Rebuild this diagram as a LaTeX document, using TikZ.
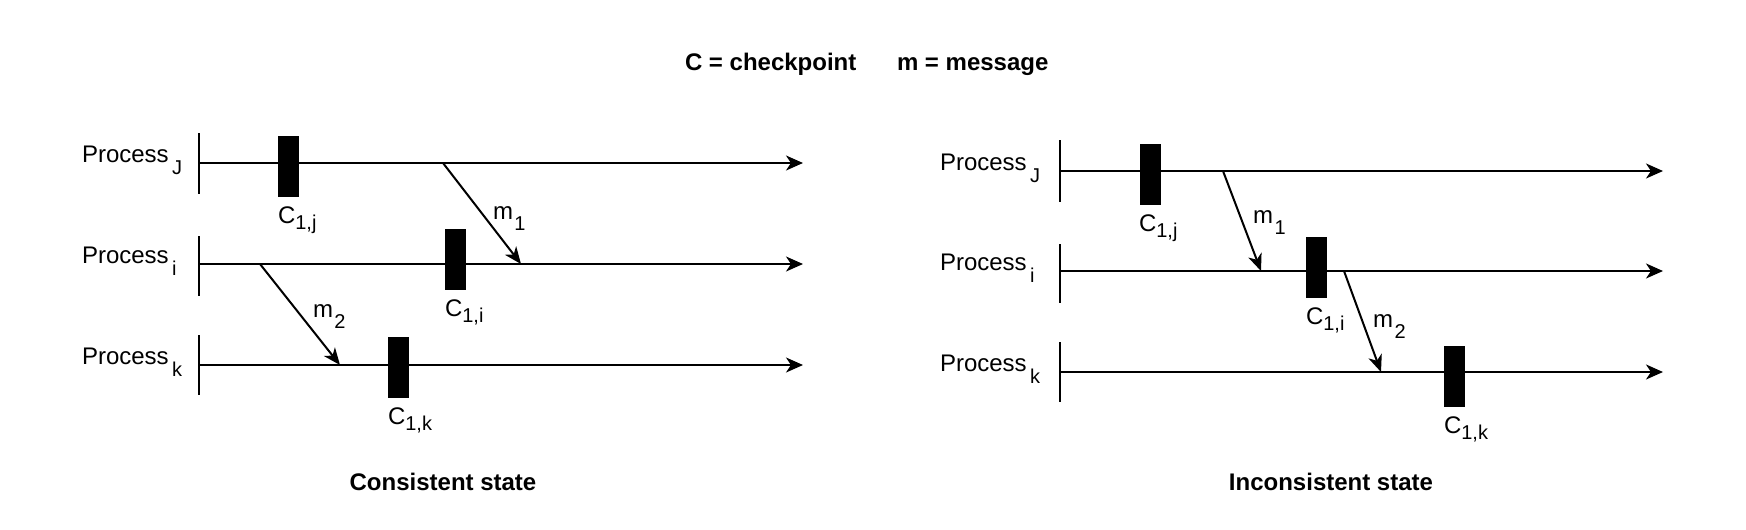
\documentclass[tikz,border=0pt]{standalone}
\usepackage{fontspec}
\setmainfont{Liberation Sans}
\usetikzlibrary{arrows.meta}
\newcommand\mysub[2]{\raisebox{-#1pt}{\fontsize{20}{20}\selectfont #2}}
\newcommand\procl[1]{Process\hspace{3.5pt}\mysub{12}{#1}}
\newcommand\ckl[1]{C\mysub{6}{#1}}
\newcommand\msgl[1]{m\hspace{1.5pt}\mysub{11}{#1}}
\begin{document}
\begin{tikzpicture}[x=1pt,y=-1pt,
  lbl/.style={inner sep=0pt, outer sep=0pt, anchor=base west, font=\fontsize{24}{28}\selectfont},
  ttl/.style={inner sep=0pt, outer sep=0pt, font=\fontsize{24}{28}\selectfont\bfseries},
  tline/.style={line width=2pt, -{Stealth[length=17pt,width=15pt,inset=5pt]}},
  msg/.style={line width=2pt, -{Stealth[length=17pt,width=14pt,inset=5pt]}},
  axisbar/.style={line width=2pt},
  ckpt/.style={fill=black, draw=none, inner sep=0pt, outer sep=0pt, minimum width=21pt, minimum height=61pt}]
\useasboundingbox (0,0) rectangle (1746,530);
\fill[white] (0,0) rectangle (1746,530);

% title
\node[ttl, anchor=base west] (t1) at (685,70) {C = checkpoint};
\node[ttl, anchor=base west] (t2) at (897,70) {m = message};

% ---------------- left panel ----------------
\coordinate (LJs) at (200,163); \coordinate (LJe) at (803,163);
\coordinate (LIs) at (200,264); \coordinate (LIe) at (803,264);
\coordinate (LKs) at (200,365); \coordinate (LKe) at (803,365);
\draw[tline] (LJs) -- (LJe);
\draw[tline] (LIs) -- (LIe);
\draw[tline] (LKs) -- (LKe);
\draw[axisbar] (199,133) -- (199,194);
\draw[axisbar] (199,236) -- (199,296);
\draw[axisbar] (199,335) -- (199,395);
\node[lbl] (LPJ) at (82,162) {\procl{J}};
\node[lbl] (LPI) at (82,263) {\procl{i}};
\node[lbl] (LPK) at (82,364) {\procl{k}};

\node[ckpt] (LCj) at (288.5,166.5) {};
\node[ckpt] (LCi) at (455.5,259.5) {};
\node[ckpt] (LCk) at (398.5,367.5) {};
\node[lbl] (LCjl) at (278,223) {\ckl{1,j}};
\node[lbl] (LCil) at (445,316) {\ckl{1,i}};
\node[lbl] (LCkl) at (388,424) {\ckl{1,k}};

\coordinate (Lm1s) at (443,163); \coordinate (Lm1e) at (521,264);
\coordinate (Lm2s) at (260,264); \coordinate (Lm2e) at (340,365);
\draw[msg] (Lm1s) -- (Lm1e);
\draw[msg] (Lm2s) -- (Lm2e);
\node[lbl] (Lm1l) at (493,219) {\msgl{1}};
\node[lbl] (Lm2l) at (313,317) {\msgl{2}};

\node[ttl, anchor=base] (Lcap) at (443,490) {Consistent state};

% ---------------- right panel ----------------
\coordinate (RJs) at (1061,171); \coordinate (RJe) at (1663,171);
\coordinate (RIs) at (1061,271); \coordinate (RIe) at (1663,271);
\coordinate (RKs) at (1061,372); \coordinate (RKe) at (1663,372);
\draw[tline] (RJs) -- (RJe);
\draw[tline] (RIs) -- (RIe);
\draw[tline] (RKs) -- (RKe);
\draw[axisbar] (1060,140) -- (1060,202);
\draw[axisbar] (1060,244) -- (1060,303);
\draw[axisbar] (1060,342) -- (1060,402);
\node[lbl] (RPJ) at (940,170) {\procl{J}};
\node[lbl] (RPI) at (940,270) {\procl{i}};
\node[lbl] (RPK) at (940,371) {\procl{k}};

\node[ckpt] (RCj) at (1150,174) {};
\node[ckpt] (RCi) at (1316.5,267) {};
\node[ckpt] (RCk) at (1454.5,376) {};
\node[lbl] (RCjl) at (1139,231) {\ckl{1,j}};
\node[lbl] (RCil) at (1306,324) {\ckl{1,i}};
\node[lbl] (RCkl) at (1444,433) {\ckl{1,k}};

\coordinate (Rm1s) at (1223,171); \coordinate (Rm1e) at (1261,271);
\coordinate (Rm2s) at (1344,271); \coordinate (Rm2e) at (1381,372);
\draw[msg] (Rm1s) -- (Rm1e);
\draw[msg] (Rm2s) -- (Rm2e);
\node[lbl] (Rm1l) at (1253,223) {\msgl{1}};
\node[lbl] (Rm2l) at (1373,327) {\msgl{2}};

\node[ttl, anchor=base] (Rcap) at (1331,490) {Inconsistent state};
\end{tikzpicture}
\end{document}
